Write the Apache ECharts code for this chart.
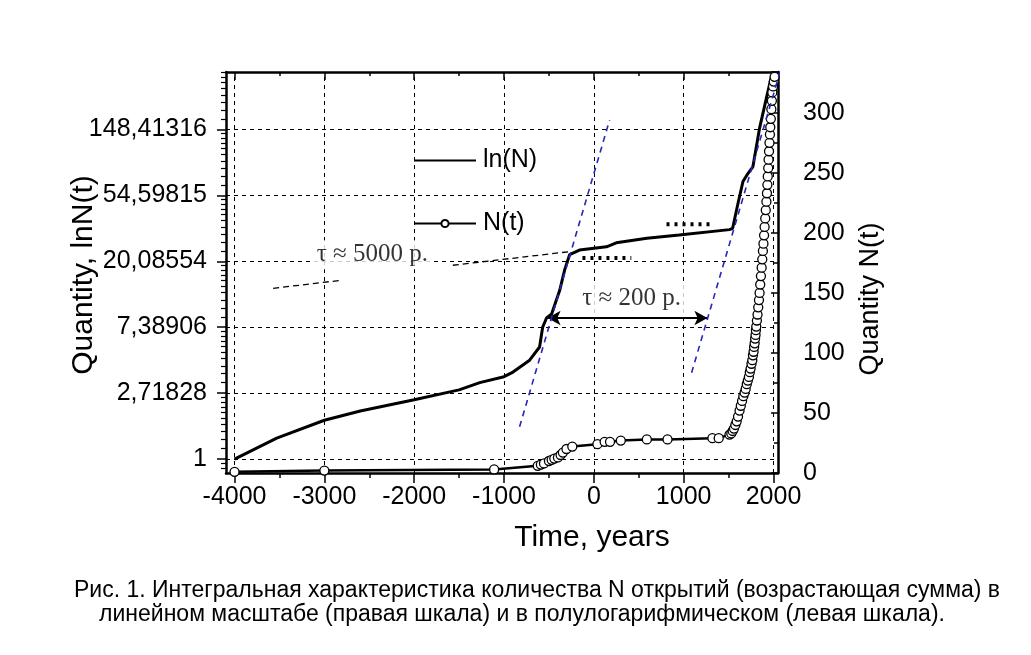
<!DOCTYPE html>
<html lang="ru">
<head>
<meta charset="UTF-8">
<title>Интегральная характеристика количества открытий</title>
<script src="https://cdn.jsdelivr.net/npm/echarts@6/dist/echarts.min.js"></script>
<style>
  html, body { margin: 0; padding: 0; background: #fff; }
  #chart { width: 1031px; height: 655px; }
</style>
</head>
<body>
<div id="chart"></div>
<script>
// ln(N) - сплошная кривая (левая шкала, в единицах ln)
const lnYears  = [-4000, -3530, -3000, -2600, -2000, -1500, -1270, -1000, -900, -715, -604, -570, -527, -470, -380, -325, -270, -160, 140, 250, 590, 950, 1510, 1545, 1600, 1660, 1715, 1770, 1845, 1920, 1975, 2010];
const lnValues = [0, 0.32, 0.59, 0.73, 0.9, 1.05, 1.16, 1.25, 1.32, 1.5, 1.7, 2.0, 2.14, 2.2, 2.56, 2.87, 3.1, 3.17, 3.22, 3.28, 3.35, 3.4, 3.48, 3.5, 3.85, 4.21, 4.33, 4.43, 5.02, 5.47, 5.79, 5.87];

// N(t) - кружки (правая шкала)
const nYears  = [-4000, -3000, -1110, -625, -590, -555, -500, -470, -440, -400, -370, -345, -305, -240, 40, 120, 180, 300, 590, 820, 1320, 1390,
                 1510, 1530, 1545, 1560, 1575, 1590, 1605, 1622, 1636, 1650, 1664, 1678, 1690, 1702, 1714, 1726, 1736, 1745, 1755, 1764, 1771, 1778,
                 1784, 1790, 1795, 1800, 1804, 1808, 1815, 1822, 1830, 1838, 1845, 1852, 1860, 1868, 1875, 1882, 1888, 1895, 1901, 1908, 1914, 1921,
                 1927, 1932, 1936, 1941, 1945, 1950, 1955, 1960, 1964, 1970, 1976, 1982, 1987, 1995, 2003, 2012];
const nValues = [1, 2, 3, 6, 7, 8, 10, 11, 12, 13, 15, 17, 20, 22, 24, 26, 26, 27, 28, 28, 29, 29,
                 32, 33, 35, 37, 40, 43, 47, 52, 56, 60, 64, 67, 70, 74, 77, 80, 84, 87, 91, 94, 98, 101,
                 105, 108, 112, 115, 119, 122, 127, 132, 138, 144, 150, 157, 164, 171, 178, 185, 191, 198, 205, 212, 219, 226,
                 233, 240, 247, 254, 261, 268, 275, 282, 288, 295, 303, 310, 317, 322, 326, 330];

// синие касательные
const tangentAYears = [-827, 175];
const tangentALn    = [0.49, 5.14];
const tangentBYears = [1088, 2090];
const tangentBLn    = [1.31, 5.95];

// пунктир "τ ≈ 5000 p." (два куска, разорваны подписью)
const slowAYears = [-3570, -2826];
const slowALn    = [2.59, 2.71];
const slowBYears = [-1570, -248];
const slowBLn    = [2.94, 3.15];

// точечные отрезки
const dotsAYears = [-127, 417];
const dotsALn    = [3.05, 3.05];
const dotsBYears = [809, 1343];
const dotsBLn    = [3.56, 3.56];

// двойная стрелка
const arrowYears = [-515, 1264];
const arrowLn    = [2.14, 2.14];

// подписи
const notes = [
  [-2465, 3.1, 'τ ≈ 5000 p.'],
  [420, 2.43, 'τ ≈ 200 p.']
];

// шкалы
const xTicks      = [-4000, -3000, -2000, -1000, 0, 1000, 2000];
const xMinorTicks = [-3500, -2500, -1500, -500, 500, 1500];
const lnTicks     = [0, 1, 2, 3, 4, 5];
const lnTickLabels = ['1', '2,71828', '7,38906', '20,08554', '54,59815', '148,41316'];

const X_MIN = -4095, X_MAX = 2050;
const LN_MIN = -0.21, LN_MAX = 5.87;

// мелкие деления левой шкалы: десятые доли между e^k и e^(k+1)
const lnMinorTicks = [];
for (let k = -1; k <= 5; k++) {
  const a = Math.exp(k), b = Math.exp(k + 1);
  for (let j = 1; j <= 9; j++) {
    const v = Math.log(a + j * (b - a) / 10);
    if (v > LN_MIN && v < LN_MAX) lnMinorTicks.push(v);
  }
}

const zip = (xs, ys) => xs.map((x, i) => [x, ys[i]]);
const FONT = "'Liberation Sans', Arial, sans-serif";
const SERIF = "'Liberation Serif', 'Times New Roman', serif";

const chart = echarts.init(document.getElementById('chart'), null, { renderer: 'canvas' });

const baseX = {
  type: 'value', min: X_MIN, max: X_MAX,
  splitLine: { show: false }
};

const lineOnly = (name, xs, ys, style, z) => ({
  name, type: 'line', xAxisIndex: 0, yAxisIndex: 0,
  data: zip(xs, ys), showSymbol: false, symbol: 'none',
  lineStyle: style, z, silent: true, clip: false, animation: false
});

chart.setOption({
  animation: false,
  backgroundColor: '#fff',
  grid: { left: 226, right: 253, top: 72, bottom: 182 },
  legend: {
    data: [
      { name: 'ln(N)', itemStyle: { opacity: 0 } },
      { name: 'N(t)' }
    ],
    orient: 'vertical',
    left: 408, top: 141,
    itemWidth: 62, itemHeight: 9, itemGap: 34,
    textStyle: { fontFamily: FONT, fontSize: 25, color: '#000', backgroundColor: '#fff', padding: [2, 4, 2, 2] },
    selectedMode: false
  },
  xAxis: [
    Object.assign({}, baseX, {
      position: 'bottom',
      axisLine: { onZero: false, lineStyle: { color: '#000', width: 2.5 } },
      axisTick: { customValues: xTicks, inside: false, length: 10, lineStyle: { color: '#000', width: 1.5 } },
      axisLabel: { customValues: xTicks, fontFamily: FONT, fontSize: 25, color: '#000', margin: 12, formatter: v => String(v) }
    }),
    Object.assign({}, baseX, {
      position: 'top',
      axisLine: { onZero: false, lineStyle: { color: '#000', width: 2.5 } },
      axisTick: { customValues: xTicks, inside: true, length: 8, lineStyle: { color: '#000', width: 1.5 } },
      axisLabel: { show: false }
    }),
    Object.assign({}, baseX, {
      position: 'bottom',
      axisLine: { show: false, onZero: false },
      axisTick: { customValues: xMinorTicks, inside: false, length: 5, lineStyle: { color: '#000', width: 1.5 } },
      axisLabel: { show: false }
    }),
    Object.assign({}, baseX, {
      position: 'top',
      axisLine: { show: false, onZero: false },
      axisTick: { customValues: xMinorTicks, inside: true, length: 4, lineStyle: { color: '#000', width: 1.5 } },
      axisLabel: { show: false }
    })
  ],
  yAxis: [
    {
      type: 'value', position: 'left', min: LN_MIN, max: LN_MAX,
      splitLine: { show: false },
      axisLine: { onZero: false, lineStyle: { color: '#000', width: 2.5 } },
      axisTick: { customValues: lnTicks, inside: false, length: 9, lineStyle: { color: '#000', width: 1.5 } },
      axisLabel: {
        customValues: lnTicks, fontFamily: FONT, fontSize: 25, color: '#000', margin: 19,
        formatter: v => lnTickLabels[lnTicks.indexOf(Math.round(v))]
      }
    },
    {
      type: 'value', position: 'right', min: 0, max: 334, interval: 50,
      splitLine: { show: false },
      axisLine: { onZero: false, lineStyle: { color: '#000', width: 2.5 } },
      axisTick: { inside: true, length: 7, lineStyle: { color: '#000', width: 1.5 } },
      minorTick: { show: true, splitNumber: 2, length: 4, lineStyle: { color: '#000', width: 1.5 } },
      axisLabel: { fontFamily: FONT, fontSize: 25, color: '#000', margin: 25, padding: [8, 0, 0, 0], showMaxLabel: false }
    },
    {
      type: 'value', position: 'left', min: LN_MIN, max: LN_MAX,
      splitLine: { show: false },
      axisLine: { show: false, onZero: false },
      axisTick: { customValues: lnMinorTicks, inside: false, length: 5, lineStyle: { color: '#000', width: 1.2 } },
      axisLabel: { show: false }
    }
  ],
  graphic: [
    { type: 'text', x: 84, y: 275, rotation: Math.PI / 2,
      style: { text: 'Quantity, lnN(t)', font: '30px ' + FONT, fill: '#000', align: 'center', verticalAlign: 'middle' } },
    { type: 'text', x: 871, y: 299, rotation: Math.PI / 2,
      style: { text: 'Quantity N(t)', font: '27px ' + FONT, fill: '#000', align: 'center', verticalAlign: 'middle' } },
    { type: 'text', x: 592, y: 538,
      style: { text: 'Time, years', font: '30px ' + FONT, fill: '#000', align: 'center', verticalAlign: 'middle' } },
    { type: 'text', x: 537, y: 591,
      style: { text: 'Рис. 1. Интегральная характеристика количества N открытий (возрастающая сумма) в', font: '23px ' + FONT, fill: '#000', align: 'center', verticalAlign: 'middle' } },
    { type: 'text', x: 522, y: 615,
      style: { text: 'линейном масштабе (правая шкала) и в полулогарифмическом (левая шкала).', font: '23px ' + FONT, fill: '#000', align: 'center', verticalAlign: 'middle' } }
  ],
  series: [
    {
      name: 'grid', type: 'line', xAxisIndex: 0, yAxisIndex: 0, data: [], silent: true, z: 1,
      markLine: {
        silent: true, symbol: 'none', label: { show: false }, animation: false,
        lineStyle: { color: '#000', width: 1, type: [4, 4] },
        emphasis: { disabled: true },
        data: xTicks.map(v => ({ xAxis: v })).concat(lnTicks.map(v => ({ yAxis: v })))
      }
    },
    {
      name: 'ln(N)', type: 'line', xAxisIndex: 0, yAxisIndex: 0,
      data: zip(lnYears, lnValues), showSymbol: false, symbol: 'none',
      lineStyle: { color: '#000', width: 3 }, itemStyle: { color: '#000' }, z: 4
    },
    {
      name: 'N(t)', type: 'line', xAxisIndex: 0, yAxisIndex: 1,
      data: zip(nYears, nValues), symbol: 'circle', symbolSize: 9, showSymbol: true,
      lineStyle: { color: '#000', width: 2.5 },
      itemStyle: { color: '#fff', borderColor: '#000', borderWidth: 1.3 }, z: 5
    },
    lineOnly('tanA', tangentAYears, tangentALn, { color: '#2626b8', width: 1.6, type: [6, 5] }, 6),
    lineOnly('tanB', tangentBYears, tangentBLn, { color: '#2626b8', width: 1.6, type: [6, 5] }, 6),
    lineOnly('slowA', slowAYears, slowALn, { color: '#000', width: 1.3, type: [6, 4] }, 3),
    lineOnly('slowB', slowBYears, slowBLn, { color: '#000', width: 1.3, type: [6, 4] }, 3),
    lineOnly('dotsA', dotsAYears, dotsALn, { color: '#000', width: 4, type: [3, 5], cap: 'butt' }, 6),
    lineOnly('dotsB', dotsBYears, dotsBLn, { color: '#000', width: 4, type: [3, 5], cap: 'butt' }, 6),
    {
      name: 'arrow', type: 'line', xAxisIndex: 0, yAxisIndex: 0, data: [], silent: true, z: 6,
      markLine: {
        silent: true, symbol: ['arrow', 'arrow'], symbolSize: [11, 13], label: { show: false }, animation: false,
        lineStyle: { color: '#000', width: 2, type: 'solid' },
        emphasis: { disabled: true },
        data: [[{ coord: [arrowYears[0], arrowLn[0]] }, { coord: [arrowYears[1], arrowLn[1]] }]]
      }
    },
    {
      name: 'notes', type: 'scatter', xAxisIndex: 0, yAxisIndex: 0, silent: true, z: 7,
      data: notes, symbolSize: 0,
      label: {
        show: true, position: 'inside', formatter: p => p.data[2],
        fontFamily: SERIF, fontSize: 25, color: '#000', backgroundColor: '#fff', padding: [2, 4]
      }
    }
  ]
});
</script>
</body>
</html>
